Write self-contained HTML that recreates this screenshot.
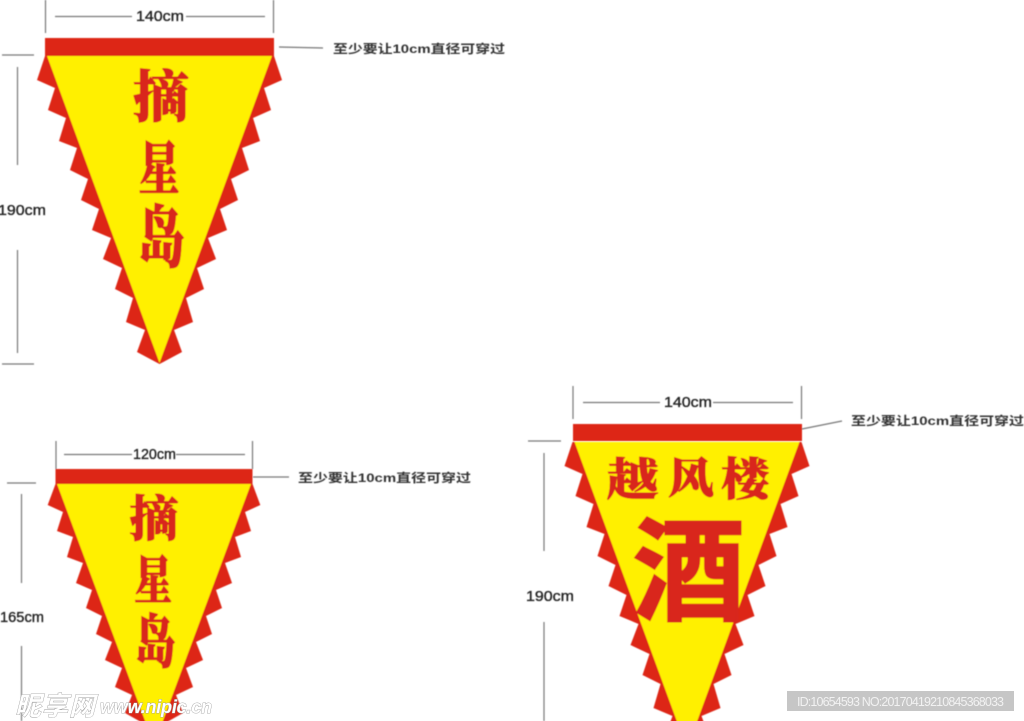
<!DOCTYPE html>
<html><head><meta charset="utf-8"><style>
html,body{margin:0;padding:0;background:#fff;width:1024px;height:721px;overflow:hidden}
svg{display:block;position:absolute;left:0;top:0}
.d{font-family:"Liberation Sans",sans-serif;font-size:14.5px;fill:#222;stroke:#222;stroke-width:.35}
.n{font-family:"Liberation Sans","Noto Sans CJK SC",sans-serif;font-size:12px;font-weight:700;fill:#333}
.c{font-family:"Noto Serif CJK SC","Noto Sans CJK SC",serif;font-weight:900;fill:#d9261c;stroke:#d9261c;stroke-width:1;text-anchor:middle}
.s{font-family:"Noto Sans CJK SC",sans-serif;font-weight:700;fill:#d9261c;stroke:#d9261c;stroke-width:2.5;text-anchor:middle}
line{stroke:#777;stroke-width:1.2}
</style></head><body>
<svg width="1024" height="721" viewBox="0 0 1024 721" xmlns="http://www.w3.org/2000/svg">
<defs><filter id="b"><feGaussianBlur stdDeviation="0.45"/></filter></defs>
<rect width="1024" height="721" fill="#fff"/>
<g filter="url(#b)">
<!-- flag 1 -->
<polygon fill="#dd2518" points="45,56 37,80 55,88 48,110 66,118 59,141 77,148 70,170 88,179 81,200 99,209 92,230 111,238 103,259 122,268 115,289 133,298 126,322 145,330 137,352 159.5,364 182,352 174,330 193,322 186,298 204,289 197,268 216,259 208,238 227,230 220,209 238,200 231,179 249,170 242,148 260,141 253,118 271,110 264,88 282,80 274,56"/>
<polygon fill="#fff000" points="47,56 272,56 159.5,363"/>
<rect x="45" y="38" width="229" height="18" fill="#dd2518"/>
<text class="c" font-size="56" x="161" y="117">摘</text>
<text class="c" font-size="50" transform="translate(159 189) scale(.82 1.14)">星</text>
<text class="c" font-size="56" transform="translate(161 261) scale(.85 1.2)">岛</text>
<!-- flag 2 -->
<polygon fill="#dd2518" points="55.5,484 47.7,505 63,512 57,531 73,537 67,557 83,563 76,583 92,590 86,608 102,616 96,634 112,642 105,660 122,668 115,687 132,695 125,713 141,722 167,722 183,713 176,695 193,687 186,668 203,660 196,642 212,634 206,616 222,608 216,590 232,583 225,563 241,557 235,537 251,531 245,512 260.3,505 252.5,484"/>
<polygon fill="#fff000" points="57,484 251,484 154,745"/>
<rect x="55.5" y="469" width="197" height="15" fill="#dd2518"/>
<text class="c" font-size="49" x="154" y="536">摘</text>
<text class="c" font-size="44" transform="translate(153 599) scale(.86 1.18)">星</text>
<text class="c" font-size="48" transform="translate(155 662) scale(.86 1.2)">岛</text>
<!-- flag 3 -->
<polygon fill="#dd2518" transform="translate(527.5 386)" points="45,56 37,80 55,88 48,110 66,118 59,141 77,148 70,170 88,179 81,200 99,209 92,230 111,238 103,259 122,268 115,289 133,298 126,322 145,330 137,352 159.5,364 182,352 174,330 193,322 186,298 204,289 197,268 216,259 208,238 227,230 220,209 238,200 231,179 249,170 242,148 260,141 253,118 271,110 264,88 282,80 274,56"/>
<polygon fill="#fff000" transform="translate(527.5 386)" points="47,56 272,56 159.5,363"/>
<rect x="573" y="424" width="229" height="17" fill="#dd2518"/>
<text class="c" font-size="48" transform="translate(632.5 495) scale(1.08 .92)">越</text>
<text class="c" font-size="46" transform="translate(691 493) scale(1 .92)">风</text>
<text class="c" font-size="48" transform="translate(745 495) scale(1 .94)">楼</text>
<text class="s" font-size="112" x="689" y="611">酒</text>
<!-- dimensions 1 -->
<line x1="45.5" y1="0" x2="45.5" y2="33"/><line x1="273.5" y1="0" x2="273.5" y2="33"/>
<line x1="55" y1="16.5" x2="132" y2="16.5"/><line x1="186" y1="16.5" x2="265" y2="16.5"/>
<text class="d" x="136" y="21" textLength="48" lengthAdjust="spacingAndGlyphs">140cm</text>
<line x1="2" y1="55" x2="34" y2="55"/><line x1="17.5" y1="67" x2="17.5" y2="165"/><line x1="17.5" y1="250" x2="17.5" y2="353"/><line x1="2" y1="364" x2="34" y2="364"/>
<text class="d" x="-2" y="215" textLength="48" lengthAdjust="spacingAndGlyphs">190cm</text>
<line x1="279" y1="47" x2="323" y2="48"/>
<text class="n" x="333" y="53" textLength="172" lengthAdjust="spacingAndGlyphs">至少要让10cm直径可穿过</text>
<!-- dimensions 2 -->
<line x1="56" y1="441" x2="56" y2="469"/><line x1="252.5" y1="441" x2="252.5" y2="469"/>
<line x1="64" y1="454.5" x2="132" y2="454.5"/><line x1="176" y1="454.5" x2="245" y2="454.5"/>
<text class="d" x="133" y="459" textLength="43" lengthAdjust="spacingAndGlyphs">120cm</text>
<line x1="7" y1="483" x2="36" y2="483"/><line x1="21.5" y1="494" x2="21.5" y2="583"/><line x1="21.5" y1="646" x2="21.5" y2="721"/>
<text class="d" x="0" y="622" textLength="44" lengthAdjust="spacingAndGlyphs">165cm</text>
<line x1="253" y1="477" x2="289" y2="477"/>
<text class="n" x="298" y="482" textLength="173" lengthAdjust="spacingAndGlyphs">至少要让10cm直径可穿过</text>
<!-- dimensions 3 -->
<line x1="573" y1="386" x2="573" y2="419"/><line x1="801.5" y1="386" x2="801.5" y2="419"/>
<line x1="583" y1="402.5" x2="660" y2="402.5"/><line x1="713" y1="402.5" x2="793" y2="402.5"/>
<text class="d" x="664" y="407" textLength="48" lengthAdjust="spacingAndGlyphs">140cm</text>
<line x1="528" y1="441" x2="561" y2="441"/><line x1="544" y1="453" x2="544" y2="551"/><line x1="544" y1="622" x2="544" y2="721"/>
<text class="d" x="526" y="601" textLength="48" lengthAdjust="spacingAndGlyphs">190cm</text>
<line x1="802" y1="429" x2="842" y2="421"/>
<text class="n" x="851" y="425" textLength="173" lengthAdjust="spacingAndGlyphs">至少要让10cm直径可穿过</text>
</g>
<!-- watermark -->
<rect x="787" y="691" width="227" height="20" fill="#c6c6c6"/>
<text x="797" y="706" font-family="'Liberation Sans',sans-serif" font-size="12.5" fill="#f2f2f2" textLength="207">ID:10654593 NO:20170419210845368033</text>
<g font-family="'Liberation Sans','Noto Sans CJK SC',sans-serif" font-weight="700" font-style="italic" fill="#fff" stroke="#999" stroke-width=".8" paint-order="stroke">
<text x="15" y="715" font-size="26" textLength="80">昵享网</text>
<text x="100" y="713" font-size="18" textLength="112">www.nipic.cn</text>
</g>
</svg>
</body></html>
